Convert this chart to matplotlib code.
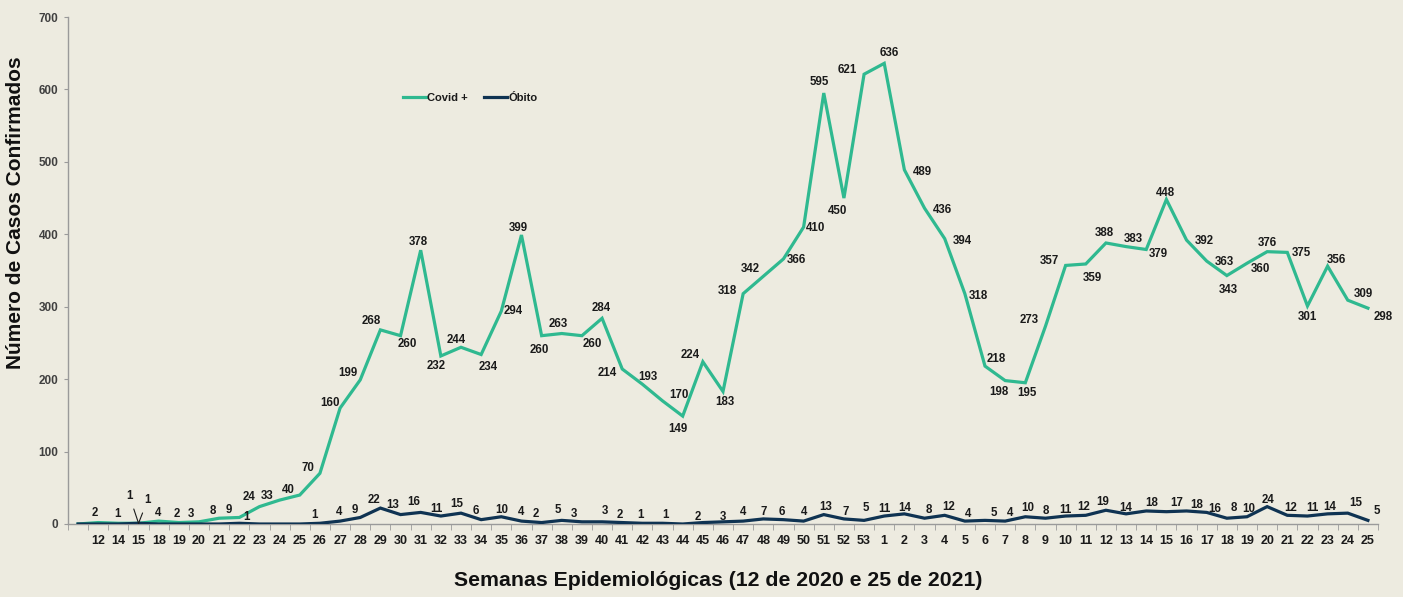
import matplotlib
matplotlib.use("Agg")
import matplotlib.pyplot as plt
from matplotlib.lines import Line2D

# ---------------- data ----------------
weeks = ["", "12", "14", "15", "18", "19", "20", "21", "22", "23", "24", "25", "26", "27",
         "28", "29", "30", "31", "32", "33", "34", "35", "36", "37", "38", "39", "40",
         "41", "42", "43", "44", "45", "46", "47", "48", "49", "50", "51", "52", "53",
         "1", "2", "3", "4", "5", "6", "7", "8", "9", "10", "11", "12", "13", "14",
         "15", "16", "17", "18", "19", "20", "21", "22", "23", "24", "25"]

covid = [0, 2, 1, 1, 4, 2, 3, 8, 9,
         24, 33, 40, 70, 160, 199, 268, 260, 378, 232,
         244, 234, 294, 399, 260, 263, 260, 284, 214, 193,
         170, 149, 224, 183, 318, 342, 366, 410, 595, 450, 621,
         636, 489, 436, 394, 318, 218, 198, 195, 273, 357,
         359, 388, 383, 379, 448, 392, 363, 343, 360, 376,
         375, 301, 356, 309, 298]

obito = [0, 0, 0, 1, 0, 0, 0, 0, 1,
         0, 0, 0, 1, 4, 9, 22, 13, 16, 11,
         15, 6, 10, 4, 2, 5, 3, 3, 2, 1,
         1, 0, 2, 3, 4, 7, 6, 4, 13, 7, 5,
         11, 14, 8, 12, 4, 5, 4, 10, 8, 11,
         12, 19, 14, 18, 17, 18, 16, 8, 10, 24,
         12, 11, 14, 15, 5]

series_names = ["Covid +", "Óbito"]
y_ticks = [0, 100, 200, 300, 400, 500, 600, 700]

# ---------------- label placement (pixels: dx right, dy up) ----------------
covid_off = [None, (-3, 10), (-1, 9), (-9, 27), (-1, 8), (-2, 9), (-8, 8), (-6, 7), (-10, 7),
             (-10, 10), (-12, 4), (-11, 5), (-12, 5), (-10, 5), (-12, 7), (-9, 9), (7, -8),
             (-2, 8), (-5, -10), (-5, 7), (7, -12), (12, 0), (-3, 7), (-2, -14), (-4, 10),
             (10, -8), (-1, 10), (-15, -4), (5, 7), (16, 6), (-5, -13), (-13, 7), (2, -11),
             (-16, 3), (-13, 7), (13, -1), (12, -1), (-4, 11), (-6, -13), (-17, 4),
             (5, 10), (18, -2), (18, -2), (18, -2), (14, -2), (11, 7), (-6, -11), (2, -10),
             (-16, 6), (-16, 4), (7, -14), (-2, 10), (7, 8), (12, -5), (-1, 7), (18, -1),
             (18, -1), (1, -14), (13, -6), (0, 9), (14, -1), (0, -11), (9, 6), (16, 6),
             (15, -9)]

obito_off = [None, None, None, (9, 23), None, None, None, None, (7, 6),
             None, None, None, (-5, 8), (-1, 9), (-5, 7), (-6, 8), (-8, 10), (-7, 10), (-4, 7),
             (-4, 9), (-5, 9), (0, 7), (0, 9), (-6, 9), (-4, 10), (-8, 8), (3, 11), (-2, 8), (-2, 8),
             (3, 8), None, (-5, 6), (0, 5), (0, 9), (0, 7), (-2, 8), (0, 9), (2, 8), (2, 7), (2, 12),
             (0, 7), (0, 6), (4, 8), (4, 8), (3, 7), (9, 7), (5, 8), (2, 9), (0, 7), (0, 6),
             (-2, 8), (-3, 8), (0, 6), (5, 8), (10, 9), (10, 6), (8, 3), (7, 10), (2, 8), (1, 7),
             (3, 7), (5, 8), (2, 7), (8, 10), (9, 9)]

leader_idx = 3  # week 15 labels drawn with leader lines

# ---------------- styling ----------------
BG = "#edebe0"
GREEN = "#2fb990"
NAVY = "#0f3352"
FONT = ["Liberation Sans", "DejaVu Sans"]
plt.rcParams["font.family"] = FONT

fig = plt.figure(figsize=(14.03, 5.97), dpi=100, facecolor=BG)
ax = fig.add_axes([68 / 1403, 1 - 524 / 597, 1310 / 1403, 507 / 597])
ax.set_facecolor(BG)

x = list(range(len(weeks)))
ax.plot(x, covid, color=GREEN, lw=2.3, solid_joinstyle="miter", zorder=3)
ax.plot(x, obito, color=NAVY, lw=2.3, solid_joinstyle="miter", zorder=3)

ax.set_xlim(-0.5, len(weeks) - 0.5)
ax.set_ylim(0, 700)

for sp in ["top", "right"]:
    ax.spines[sp].set_visible(False)
for sp in ["left", "bottom"]:
    ax.spines[sp].set_color("#9a9a9a")
    ax.spines[sp].set_linewidth(1.0)

ax.set_yticks(y_ticks)
ax.set_yticklabels([str(v) for v in y_ticks], fontsize=8.5, fontweight="bold", color="#404040")
ax.tick_params(axis="y", length=3, color="#9a9a9a", pad=4)

ax.set_xticks(x)
ax.set_xticklabels(weeks, fontsize=9, fontweight="bold", color="#1a1a1a")
ax.tick_params(axis="x", which="major", length=0, pad=8)
ax.set_xticks([i - 0.5 for i in range(len(weeks) + 1)], minor=True)
ax.tick_params(axis="x", which="minor", length=4, color="#9a9a9a")

label_kw = dict(textcoords="offset pixels", ha="center", va="center",
                fontsize=8.3, fontweight="bold", color="#1a1a1a", zorder=5)

def draw_labels(values, offsets):
    for i, v in enumerate(values):
        off = offsets[i]
        if off is None or v == 0:
            continue
        if i == leader_idx:
            ax.annotate(str(v), (i, v), xytext=off,
                        arrowprops=dict(arrowstyle="-", color="#1a1a1a", lw=0.8,
                                        shrinkA=3, shrinkB=0), **label_kw)
        else:
            ax.annotate(str(v), (i, v), xytext=off, **label_kw)

draw_labels(covid, covid_off)
draw_labels(obito, obito_off)

handles = [Line2D([], [], color=GREEN, lw=2.3), Line2D([], [], color=NAVY, lw=2.3)]
leg = ax.legend(handles, series_names, loc="center", bbox_to_anchor=(0.307, 0.84),
                ncol=2, frameon=False, handlelength=2.1, handletextpad=0.1,
                columnspacing=1.4, prop=dict(family=FONT, weight="bold", size=8))
for t in leg.get_texts():
    t.set_color("#1a1a1a")

fig.text(16 / 1403, 1 - 213 / 597, "Número de Casos Confirmados", rotation=90,
         ha="center", va="center", fontsize=15, fontweight="bold", color="#111111")
fig.text(718 / 1403, 1 - 581 / 597, "Semanas Epidemiológicas (12 de 2020 e 25 de 2021)",
         ha="center", va="center", fontsize=15.3, fontweight="bold", color="#111111")

fig.savefig("out.png", dpi=100, facecolor=BG)
